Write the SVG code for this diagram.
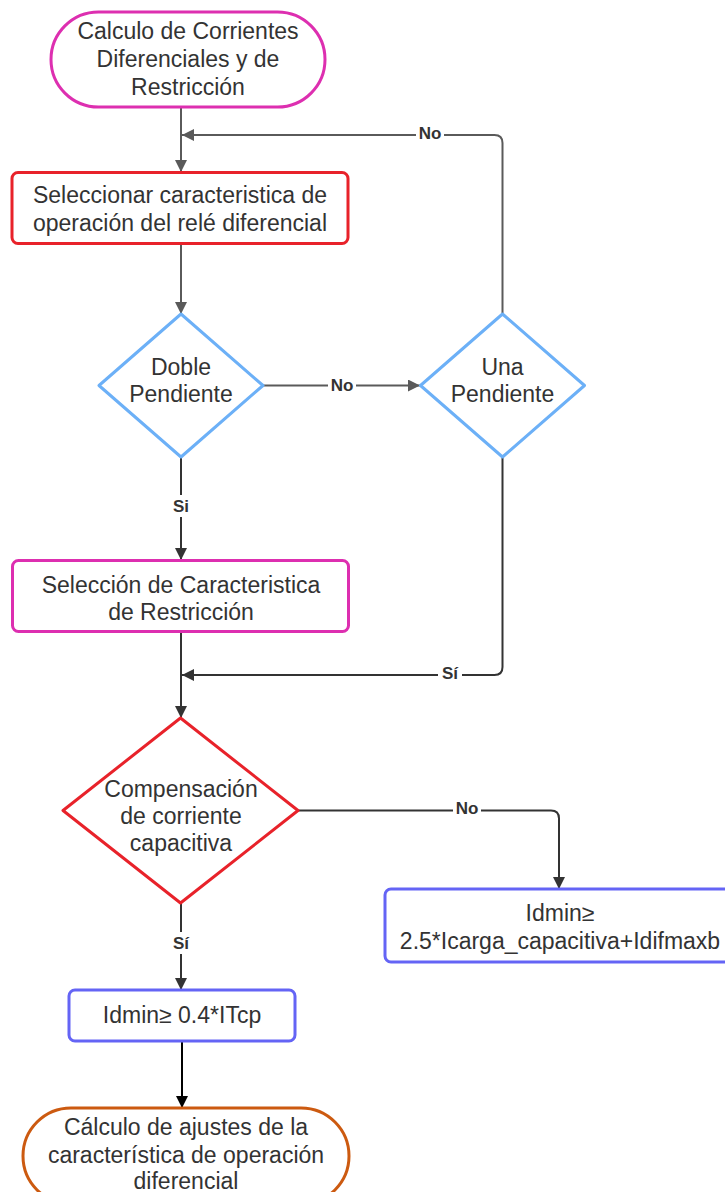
<svg xmlns="http://www.w3.org/2000/svg" width="725" height="1192" viewBox="0 0 725 1192">
<style>
.t{font-family:"Liberation Sans",Arial,sans-serif;font-size:23px;fill:#333;text-anchor:middle}
.lbl{font-family:"Liberation Sans",Arial,sans-serif;font-size:17px;font-weight:bold;fill:#333;text-anchor:middle}
.n{fill:#fff;stroke-width:3}
.c{fill:none;stroke-width:2}
.g{stroke:#5a5a5a}
.d{stroke:#333}
.k{stroke:#000}
</style>
<defs>
<marker id="ag" markerWidth="12" markerHeight="12" refX="12" refY="6" orient="auto" markerUnits="userSpaceOnUse"><path d="M0,0 L12,6 L0,12 z" fill="#5a5a5a"/></marker>
<marker id="ad" markerWidth="12" markerHeight="12" refX="12" refY="6" orient="auto" markerUnits="userSpaceOnUse"><path d="M0,0 L12,6 L0,12 z" fill="#333"/></marker>
<marker id="ak" markerWidth="12" markerHeight="12" refX="12" refY="6" orient="auto" markerUnits="userSpaceOnUse"><path d="M0,0 L12,6 L0,12 z" fill="#000"/></marker>
</defs>
<rect width="725" height="1192" fill="#fff"/>
<g id="connectors">
<path class="c g" d="M181,107 V172" marker-end="url(#ag)"/>
<path class="c g" d="M181,245 V314" marker-end="url(#ag)"/>
<path class="c g" d="M263,385.5 H420" marker-end="url(#ag)"/>
<path class="c g" d="M502.5,314 V143 Q502.5,135 494.5,135 H182" marker-end="url(#ag)"/>
<path class="c d" d="M181,457 V560" marker-end="url(#ad)"/>
<path class="c d" d="M502.5,457 V667 Q502.5,675 494.5,675 H182" marker-end="url(#ad)"/>
<path class="c d" d="M181,632 V718" marker-end="url(#ad)"/>
<path class="c d" d="M298,810.5 H551 Q559,810.5 559,818.5 V889" marker-end="url(#ad)"/>
<path class="c d" d="M181,903 V990" marker-end="url(#ad)"/>
<path class="c k" d="M182,1041 V1108" marker-end="url(#ak)"/>
<rect x="416" y="124" width="28" height="19" fill="#fff"/>
<text class="lbl" x="430" y="139">No</text>
<rect x="328" y="376" width="28" height="19" fill="#fff"/>
<text class="lbl" x="342" y="391">No</text>
<rect x="169" y="495" width="24" height="22" fill="#fff"/>
<text class="lbl" x="181" y="512">Si</text>
<rect x="438" y="664" width="24" height="20" fill="#fff"/>
<text class="lbl" x="450" y="679">Sí</text>
<rect x="453" y="799" width="28" height="19" fill="#fff"/>
<text class="lbl" x="467" y="814">No</text>
<rect x="169" y="932" width="24" height="22" fill="#fff"/>
<text class="lbl" x="181" y="949">Sí</text>
</g>
<g id="inicio">
<rect class="n" x="51" y="12" width="274" height="95" rx="47.5" stroke="#dd2fb0"/>
<text class="t" x="188" y="39">Calculo de Corrientes</text>
<text class="t" x="188" y="67">Diferenciales y de</text>
<text class="t" x="188" y="95">Restricción</text>
</g>
<g id="seleccionar">
<rect class="n" x="12" y="172.5" width="336" height="71" rx="6" stroke="#e8222a"/>
<text class="t" x="180" y="203">Seleccionar caracteristica de</text>
<text class="t" x="180" y="231">operación del relé diferencial</text>
</g>
<g id="doble">
<path class="n" d="M181,314 L263,385.5 L181,457 L99,385.5 Z" stroke="#6cb0f7" stroke-linejoin="round"/>
<text class="t" x="181" y="375">Doble</text>
<text class="t" x="181" y="402">Pendiente</text>
</g>
<g id="una">
<path class="n" d="M502.5,314 L584.5,385.5 L502.5,457 L420.5,385.5 Z" stroke="#6cb0f7" stroke-linejoin="round"/>
<text class="t" x="502.5" y="375">Una</text>
<text class="t" x="502.5" y="402">Pendiente</text>
</g>
<g id="restriccion">
<rect class="n" x="12.5" y="560.5" width="336" height="71" rx="6" stroke="#dd2fb0"/>
<text class="t" x="181" y="593">Selección de Caracteristica</text>
<text class="t" x="181" y="620">de Restricción</text>
</g>
<g id="compensacion">
<path class="n" d="M180.5,718 L298,810.5 L180.5,903 L63,810.5 Z" stroke="#e8222a" stroke-linejoin="round"/>
<text class="t" x="181" y="797">Compensación</text>
<text class="t" x="181" y="824">de corriente</text>
<text class="t" x="181" y="851">capacitiva</text>
</g>
<g id="idmin-capacitiva">
<rect class="n" x="385" y="889" width="350" height="73" rx="6" stroke="#6464f5"/>
<text class="t" x="560" y="921">Idmin≥</text>
<text class="t" x="560" y="949">2.5*Icarga_capacitiva+Idifmaxb</text>
</g>
<g id="idmin-itcp">
<rect class="n" x="69" y="990" width="226" height="51" rx="6" stroke="#6464f5"/>
<text class="t" x="182" y="1023">Idmin≥ 0.4*ITcp</text>
</g>
<g id="fin">
<rect class="n" x="23" y="1108" width="326" height="96" rx="48" stroke="#cc5a10"/>
<text class="t" x="186" y="1135">Cálculo de ajustes de la</text>
<text class="t" x="186" y="1163">característica de operación</text>
<text class="t" x="186" y="1189">diferencial</text>
</g>
</svg>
